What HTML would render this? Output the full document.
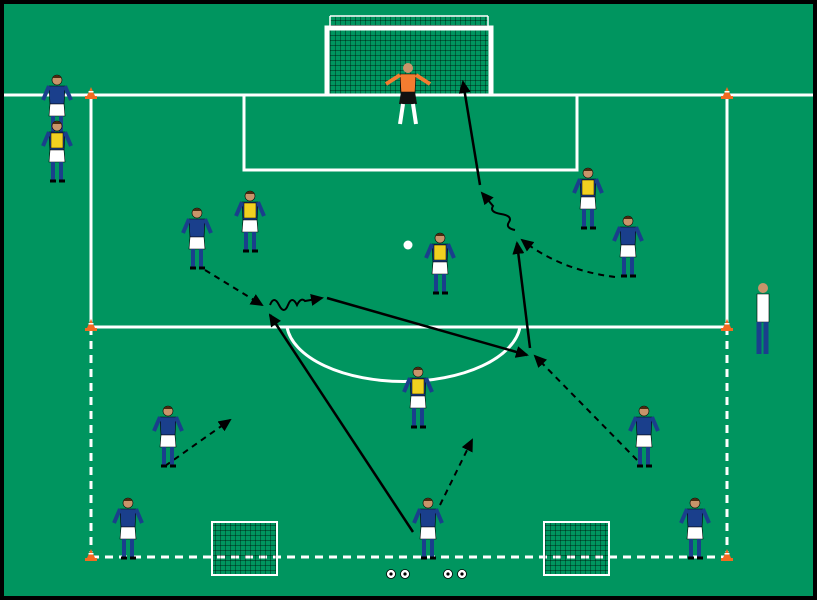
<!DOCTYPE html>
<html><head><style>html,body{margin:0;padding:0;background:#000}svg{display:block}</style></head><body>
<svg width="817" height="600" viewBox="0 0 817 600" xmlns="http://www.w3.org/2000/svg">
<defs>
<marker id="ah" markerWidth="13" markerHeight="12" refX="11" refY="6" orient="auto" markerUnits="userSpaceOnUse"><path d="M0,0 L13,6 L0,12 z" fill="#000"/></marker>
<pattern id="net" width="5" height="5" patternUnits="userSpaceOnUse"><path d="M0,0H5M0,0V5" stroke="#000" stroke-width="0.7" fill="none"/></pattern>
<g id="pb"><circle cx="0" cy="6" r="5" fill="#c8946a" stroke="#000" stroke-width="0.6"/><path d="M-5,4 Q0,-2 5,4 Z" fill="#4a2a10"/><path d="M-8,12 H8 L7,30 H-7 Z" fill="#1a3f8c" stroke="#000" stroke-width="0.6"/><path d="M-8,12 L-14,26" stroke="#1a3f8c" stroke-width="4"/><path d="M8,12 L14,26" stroke="#1a3f8c" stroke-width="4"/><path d="M-7,30 H7 L8,42 H-8 Z" fill="#fff" stroke="#000" stroke-width="0.6"/><path d="M-4,42 V60 M4,42 V60" stroke="#1a3f8c" stroke-width="4"/><path d="M-7,61 H-1 M2,61 H8" stroke="#000" stroke-width="3"/></g>
<g id="py"><circle cx="0" cy="6" r="5" fill="#c8946a" stroke="#000" stroke-width="0.6"/><path d="M-5,4 Q0,-2 5,4 Z" fill="#4a2a10"/><path d="M-8,12 H8 L7,30 H-7 Z" fill="#1a3f8c" stroke="#000" stroke-width="0.6"/><path d="M-6,13 H6 L6,28 H-6 Z" fill="#f0d020" stroke="#000" stroke-width="0.5"/><path d="M-8,12 L-14,26" stroke="#1a3f8c" stroke-width="4"/><path d="M8,12 L14,26" stroke="#1a3f8c" stroke-width="4"/><path d="M-7,30 H7 L8,42 H-8 Z" fill="#fff" stroke="#000" stroke-width="0.6"/><path d="M-4,42 V60 M4,42 V60" stroke="#1a3f8c" stroke-width="4"/><path d="M-7,61 H-1 M2,61 H8" stroke="#000" stroke-width="3"/></g>
<g id="cone"><path d="M-4,0 L0,-9 L4,0 Z" fill="#f26a21"/><rect x="-6" y="0" width="12" height="3" fill="#f26a21"/><rect x="-2.5" y="-5" width="5" height="1.5" fill="#fff"/></g>
<g id="ball"><circle r="4.5" fill="#fff" stroke="#000" stroke-width="0.8"/><circle r="1.6" fill="#000"/></g>
</defs>
<rect x="0" y="0" width="817" height="600" fill="#000"/>
<rect x="4" y="4" width="809" height="592" fill="#00955f"/>
<!-- goal -->
<rect x="330" y="16" width="158" height="79" fill="url(#net)"/>
<path d="M330,16 H488 M330,16 V28 M488,16 V28" stroke="#fff" stroke-width="1.5" fill="none"/>
<path d="M327,95 V28 H491 V95" fill="none" stroke="#fff" stroke-width="5"/>
<g stroke="#fff" stroke-width="3" fill="none">
<path d="M4,95 H813"/>
<path d="M91,95 V327 M727,95 V327 M91,327 H727"/>
<path d="M244,95 V170 H577 V95"/>
<path d="M287,327 A117,60 0 0 0 520,327"/>
<path d="M91,327 V557 M727,327 V557 M91,557 H727" stroke-dasharray="8,6"/>
</g>
<!-- small goals -->
<rect x="212" y="522" width="65" height="53" fill="url(#net)" stroke="#fff" stroke-width="2"/>
<rect x="544" y="522" width="65" height="53" fill="url(#net)" stroke="#fff" stroke-width="2"/>
<!-- cones -->
<use href="#cone" x="91" y="96"/><use href="#cone" x="727" y="96"/>
<use href="#cone" x="91" y="328"/><use href="#cone" x="727" y="328"/>
<use href="#cone" x="91" y="558"/><use href="#cone" x="727" y="558"/>
<!-- balls -->
<use href="#ball" x="391" y="574"/><use href="#ball" x="405" y="574"/><use href="#ball" x="448" y="574"/><use href="#ball" x="462" y="574"/>
<circle cx="408" cy="245" r="4.5" fill="#fff"/>
<!-- arrows -->
<g stroke="#000" stroke-width="2.5" fill="none" marker-end="url(#ah)">
<path d="M413,532 L270,315"/>
<path d="M327,298 L527,355"/>
<path d="M530,348 L517,243"/>
<path d="M480,185 L463,82"/>
</g>
<g stroke="#000" stroke-width="2" fill="none" stroke-dasharray="6,5" marker-end="url(#ah)">
<path d="M205,270 L262,305"/>
<path d="M165,466 L230,420"/>
<path d="M440,505 L472,440"/>
<path d="M637,460 L535,356"/>
<path d="M615,277 Q560,270 522,240"/>
</g>
<g stroke="#000" stroke-width="2" fill="none" marker-end="url(#ah)">
<path d="M270,305 q4,-10 9,0 t9,0 t9,0 q4,-8 8,-4 L322,298"/>
<path d="M515,230 q-10,-2 -6,-8 t-8,-8 t-8,-8 L482,193"/>
</g>
<!-- players -->
<use href="#pb" x="57" y="74"/><use href="#py" x="57" y="120"/>
<g transform="translate(408,62)"><circle cx="0" cy="6" r="5" fill="#c8946a"/><path d="M-8,12 H8 L7,30 H-7 Z" fill="#f47c30" stroke="#000" stroke-width="0.6"/><path d="M-8,13 L-22,22 M8,13 L22,22" stroke="#f47c30" stroke-width="4"/><path d="M-7,30 H7 L9,42 H-9 Z" fill="#111"/><path d="M-5,42 L-8,62 M5,42 L8,62" stroke="#fff" stroke-width="4"/></g>
<use href="#pb" x="197" y="207"/><use href="#py" x="250" y="190"/>
<use href="#py" x="440" y="232"/><use href="#py" x="588" y="167"/>
<use href="#pb" x="628" y="215"/>
<g transform="translate(763,282)"><circle cx="0" cy="6" r="5" fill="#c8946a"/><path d="M-6,12 H6 L6,40 H-6 Z" fill="#fff" stroke="#000" stroke-width="0.6"/><path d="M-4,40 V72 M3,40 V72" stroke="#1a3f8c" stroke-width="5"/></g>
<use href="#py" x="418" y="366"/><use href="#pb" x="168" y="405"/><use href="#pb" x="644" y="405"/>
<use href="#pb" x="128" y="497"/><use href="#pb" x="428" y="497"/><use href="#pb" x="695" y="497"/>
</svg>
</body></html>
